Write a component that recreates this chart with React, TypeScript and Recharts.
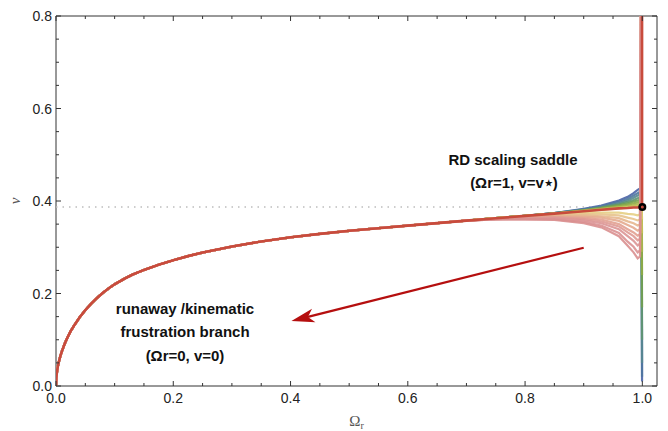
import { LineChart, Line, XAxis, YAxis, ReferenceLine, ReferenceDot, ReferenceArea } from 'recharts';

// common rising branch, Omega_r from 0 to 0.7
const baseOmega = [0, 0.0005, 0.001, 0.002, 0.003, 0.005, 0.0075, 0.01, 0.015, 0.02, 0.025, 0.03, 0.04, 0.05, 0.06, 0.07, 0.08, 0.09, 0.1, 0.115, 0.13, 0.15, 0.175, 0.2, 0.225, 0.25, 0.3, 0.35, 0.4, 0.45, 0.5, 0.55, 0.6, 0.65, 0.7];
const baseV = [0, 0.0168, 0.0237, 0.0335, 0.041, 0.053, 0.065, 0.075, 0.092, 0.106, 0.1185, 0.129, 0.148, 0.164, 0.178, 0.1905, 0.2015, 0.2113, 0.22, 0.2308, 0.2405, 0.251, 0.262, 0.272, 0.2808, 0.2885, 0.3015, 0.3125, 0.3215, 0.329, 0.3355, 0.3412, 0.3468, 0.3522, 0.3575];

// where the trajectories fan out near the saddle
const tailOmega = [0.75, 0.8, 0.85, 0.9, 0.93, 0.96, 0.975, 0.985, 0.992, 0.996];

// overshooting trajectories (blue -> yellow), they collapse to v=0
const upperTails = [
  [0.363, 0.368, 0.374, 0.383, 0.39, 0.401, 0.409, 0.417, 0.424, 0.427],
  [0.363, 0.368, 0.374, 0.382, 0.388, 0.398, 0.405, 0.412, 0.417, 0.42],
  [0.363, 0.368, 0.374, 0.381, 0.387, 0.395, 0.401, 0.407, 0.412, 0.414],
  [0.363, 0.368, 0.374, 0.38, 0.386, 0.393, 0.398, 0.402, 0.406, 0.408],
  [0.363, 0.368, 0.373, 0.38, 0.385, 0.391, 0.395, 0.399, 0.401, 0.403],
  [0.363, 0.368, 0.373, 0.379, 0.383, 0.389, 0.392, 0.395, 0.397, 0.398],
  [0.363, 0.368, 0.373, 0.379, 0.383, 0.387, 0.389, 0.391, 0.393, 0.394],
  [0.363, 0.368, 0.373, 0.378, 0.382, 0.386, 0.387, 0.389, 0.39, 0.391],
  [0.363, 0.368, 0.373, 0.378, 0.381, 0.384, 0.386, 0.387, 0.387, 0.388],
];
const upperShoulder = [0.405, 0.4, 0.396, 0.392, 0.389, 0.387, 0.386, 0.385, 0.385];
const upperEnd = [0.01, 0.02, 0.05, 0.1, 0.17, 0.24, 0.29, 0.33, 0.36];
const upperColors = ['#4a64a6', '#4f75a0', '#578790', '#5f9572', '#709f52', '#8cab46', '#a9b64c', '#c3c058', '#d7ca6e'];

// undershooting trajectories (yellow -> pink), they turn up to the top
const lowerTails = [
  [0.363, 0.367, 0.371, 0.374, 0.375, 0.375, 0.372, 0.371, 0.369, 0.371],
  [0.362, 0.366, 0.369, 0.371, 0.371, 0.369, 0.364, 0.361, 0.358, 0.36],
  [0.362, 0.365, 0.368, 0.369, 0.367, 0.363, 0.356, 0.352, 0.347, 0.349],
  [0.362, 0.365, 0.367, 0.366, 0.364, 0.357, 0.348, 0.342, 0.336, 0.339],
  [0.361, 0.364, 0.365, 0.363, 0.36, 0.35, 0.339, 0.332, 0.325, 0.328],
  [0.361, 0.363, 0.364, 0.361, 0.356, 0.345, 0.332, 0.324, 0.315, 0.318],
  [0.361, 0.362, 0.362, 0.358, 0.352, 0.339, 0.324, 0.314, 0.304, 0.308],
  [0.36, 0.361, 0.36, 0.355, 0.347, 0.331, 0.312, 0.301, 0.289, 0.293],
  [0.36, 0.36, 0.359, 0.352, 0.343, 0.324, 0.303, 0.289, 0.276, 0.28],
];
const lowerColors = ['#e5cf84', '#e7c38c', '#e6b78e', '#e4ab8f', '#e2a191', '#df9a94', '#dc9595', '#da9192', '#d98f8f'];

// separatrix into the saddle
const sepTail = [0.3627, 0.3678, 0.3728, 0.3778, 0.381, 0.384, 0.385, 0.386, 0.386, 0.387];

const vStar = 0.387;
const xTicks = [0, 0.05, 0.1, 0.15, 0.2, 0.25, 0.3, 0.35, 0.4, 0.45, 0.5, 0.55, 0.6, 0.65, 0.7, 0.75, 0.8, 0.85, 0.9, 0.95, 1];
const yTicks = [0, 0.05, 0.1, 0.15, 0.2, 0.25, 0.3, 0.35, 0.4, 0.45, 0.5, 0.55, 0.6, 0.65, 0.7, 0.75, 0.8];

const W = 668;
const H = 431;
const TOP = 16;
const RIGHT = 657;
const BOTTOM = 386;
const LEFT = 56;
const FRAME = '#333';
const FONT = '"Liberation Sans", Arial, sans-serif';

type Pt = { x: number; v: number };

function curve(tail: number[], extra: [number, number][]): Pt[] {
  const pts: Pt[] = baseOmega.map((x, i) => ({ x, v: baseV[i] }));
  tail.forEach((v, i) => pts.push({ x: tailOmega[i], v }));
  extra.forEach(([x, v]) => pts.push({ x, v }));
  return pts;
}

const isMajor = (v: number) => Math.abs(v * 5 - Math.round(v * 5)) < 1e-6;

function XTick(props: any) {
  const { x, payload } = props;
  const major = isMajor(payload.value);
  const len = major ? 5 : 3;
  return (
    <g>
      <line x1={x} y1={BOTTOM} x2={x} y2={BOTTOM - len} stroke={FRAME} />
      <line x1={x} y1={TOP} x2={x} y2={TOP + len} stroke={FRAME} />
      {major && (
        <text x={x} y={BOTTOM + 17} textAnchor="middle" fontSize={14} fill="#222" fontFamily={FONT}>
          {payload.value.toFixed(1)}
        </text>
      )}
    </g>
  );
}

function YTick(props: any) {
  const { y, payload } = props;
  const major = isMajor(payload.value);
  const len = major ? 5 : 3;
  return (
    <g>
      <line x1={LEFT} y1={y} x2={LEFT + len} y2={y} stroke={FRAME} />
      <line x1={RIGHT} y1={y} x2={RIGHT - len} y2={y} stroke={FRAME} />
      {major && (
        <text x={LEFT - 4} y={y} dy="0.36em" textAnchor="end" fontSize={14} fill="#222" fontFamily={FONT}>
          {payload.value.toFixed(1)}
        </text>
      )}
    </g>
  );
}

function Arrow(props: any) {
  const { x1, y1, x2, y2 } = props;
  const ang = Math.atan2(y2 - y1, x2 - x1);
  const c = Math.cos(ang);
  const s = Math.sin(ang);
  const len = 23;
  const half = 7;
  const notch = 17;
  const bx = x2 - c * len;
  const by = y2 - s * len;
  const nx = x2 - c * notch;
  const ny = y2 - s * notch;
  const head = [
    [x2, y2],
    [bx - s * half, by + c * half],
    [nx, ny],
    [bx + s * half, by - c * half],
  ].map(p => p.join(',')).join(' ');
  return (
    <g>
      <line x1={x1} y1={y1} x2={nx} y2={ny} stroke="#b50f0f" strokeWidth={2.2} />
      <polygon points={head} fill="#b50f0f" />
    </g>
  );
}

const textStyle = (left: number, top: number): React.CSSProperties => ({
  position: 'absolute',
  left,
  top,
  transform: 'translate(-50%, -50%)',
  whiteSpace: 'nowrap',
  fontFamily: FONT,
  fontWeight: 'bold',
  fontSize: 15,
  color: '#111',
});

export default function App() {
  return (
    <div style={{ position: 'absolute', left: 0, top: 0, width: W, height: H, background: '#fff' }}>
      <LineChart width={W} height={H} margin={{ top: TOP, right: W - RIGHT, left: 0, bottom: 0 }}>
        <XAxis
          dataKey="x"
          type="number"
          domain={[0, 1.025]}
          allowDataOverflow
          ticks={xTicks}
          interval={0}
          height={H - BOTTOM}
          axisLine={false}
          tickLine={false}
          tickSize={0}
          tickMargin={0}
          tick={<XTick />}
          label={({ viewBox }: any) => (
            <text x={viewBox.x + viewBox.width / 2} y={viewBox.y + 40} textAnchor="middle" fill="#555" fontFamily="'Liberation Serif', 'DejaVu Serif', serif" fontSize={15}>
              Ω<tspan fontSize={10} dy={3}>r</tspan>
            </text>
          )}
        />
        <YAxis
          type="number"
          domain={[0, 0.8]}
          allowDataOverflow
          ticks={yTicks}
          interval={0}
          width={LEFT}
          axisLine={false}
          tickLine={false}
          tickSize={0}
          tickMargin={0}
          tick={<YTick />}
          label={({ viewBox }: any) => (
            <text x={15} y={viewBox.y + viewBox.height / 2} transform={`rotate(-90 15 ${viewBox.y + viewBox.height / 2})`} textAnchor="middle" dy="0.3em" fill="#555" fontFamily="'Liberation Serif', 'DejaVu Serif', serif" fontStyle="italic" fontSize={15}>
              v
            </text>
          )}
        />
        <ReferenceArea x1={0} x2={1.025} y1={0} y2={0.8} fill="none" stroke={FRAME} strokeWidth={1} />
        <ReferenceLine segment={[{ x: 0, y: vStar }, { x: 1, y: vStar }]} stroke="#bdbdbd" strokeWidth={1.5} strokeDasharray="1.5 5" />
        {upperTails.map((tail, i) => (
          <Line
            key={`u${i}`}
            data={curve(tail, [[0.9988, upperShoulder[i]], [0.9995, upperEnd[i]]])}
            dataKey="v"
            type="linear"
            stroke={upperColors[i]}
            strokeWidth={2.2}
            strokeOpacity={0.9}
            dot={false}
            isAnimationActive={false}
          />
        ))}
        {lowerTails.map((tail, i) => (
          <Line
            key={`l${i}`}
            data={curve(tail, [[0.9975, 0.8]])}
            dataKey="v"
            type="linear"
            stroke={lowerColors[i]}
            strokeWidth={2.2}
            strokeOpacity={0.9}
            dot={false}
            isAnimationActive={false}
          />
        ))}
        <Line
          data={curve(sepTail, [[0.9995, vStar], [0.9995, 0.8]])}
          dataKey="v"
          type="linear"
          stroke="#c84b3c"
          strokeWidth={2.6}
          dot={false}
          isAnimationActive={false}
        />
        <ReferenceDot x={1} y={vStar} r={4} fill="#000" stroke="none" />
        <ReferenceDot x={1} y={vStar} r={1.5} fill="#c84b3c" stroke="none" />
        <ReferenceLine segment={[{ x: 0.9, y: 0.299 }, { x: 0.4015, y: 0.1405 }]} shape={<Arrow />} />
      </LineChart>
      <div style={textStyle(513, 159)}>RD scaling saddle</div>
      <div style={textStyle(514, 183)}>(Ωr=1, v=v⋆)</div>
      <div style={textStyle(185, 308)}>runaway /kinematic</div>
      <div style={textStyle(185, 331)}>frustration branch</div>
      <div style={textStyle(185, 355)}>(Ωr=0, v=0)</div>
    </div>
  );
}
